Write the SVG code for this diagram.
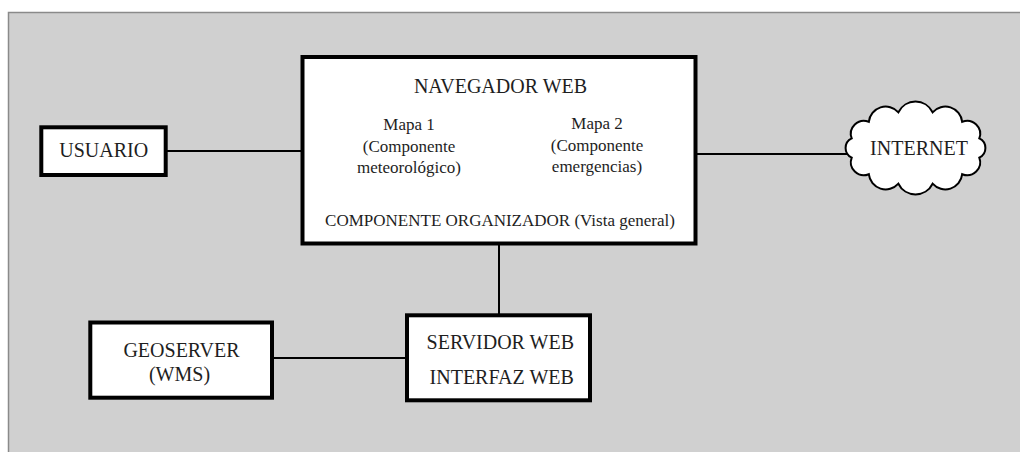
<svg xmlns="http://www.w3.org/2000/svg" width="1020" height="452" viewBox="0 0 1020 452">
  <style>
    .box { fill: #ffffff; stroke: #000000; stroke-width: 4; }
    .cloud { fill: #ffffff; stroke: #000000; stroke-width: 2; }
    .link { stroke: #000000; stroke-width: 2; fill: none; }
    .lbl { font-family: "Liberation Serif", "Times New Roman", serif; fill: #1e1e1e; text-anchor: middle; }
    .big { font-size: 20px; }
    .small { font-size: 17px; }
  </style>

  <!-- page background and framed panel -->
  <rect x="0" y="0" width="1020" height="452" fill="#ffffff"/>
  <rect x="8.5" y="12.5" width="1020" height="450" fill="#d0d0d0" stroke="#8a8a8a" stroke-width="1.5"/>

  <!-- connectors -->
  <g id="connectors">
    <line class="link" x1="167" y1="151" x2="302" y2="151"/>
    <line class="link" x1="697" y1="154" x2="850" y2="154"/>
    <line class="link" x1="499" y1="245" x2="499" y2="314"/>
    <line class="link" x1="273" y1="358" x2="406" y2="358"/>
  </g>

  <g id="usuario">
    <rect class="box" x="41.3" y="127.3" width="124.4" height="47.7"/>
    <text class="lbl big" x="103.7" y="157">USUARIO</text>
  </g>

  <g id="navegador">
    <rect class="box" x="302.5" y="57" width="393" height="186.5"/>
    <text class="lbl big" x="500.5" y="93">NAVEGADOR WEB</text>
    <text class="lbl small" x="409" y="130">Mapa 1</text>
    <text class="lbl small" x="409" y="151.5">(Componente</text>
    <text class="lbl small" x="409" y="173">meteorológico)</text>
    <text class="lbl small" x="597" y="129">Mapa 2</text>
    <text class="lbl small" x="597" y="150.5">(Componente</text>
    <text class="lbl small" x="597" y="172">emergencias)</text>
    <text class="lbl small" x="500" y="226">COMPONENTE ORGANIZADOR (Vista general)</text>
  </g>

  <g id="internet">
    <path class="cloud" d="M851.7,157.6
      A10.6,10.6 0 0 1 851.7,138.4
      A13,13 0 0 1 868.8,121.8
      A17,17 0 0 1 898.4,112.3
      A19,19 0 0 1 932.6,112.3
      A17,17 0 0 1 962.2,121.8
      A13,13 0 0 1 979.3,138.4
      A10.6,10.6 0 0 1 979.3,157.6
      A13,13 0 0 1 962.2,174.2
      A17,17 0 0 1 932.6,183.7
      A19,19 0 0 1 898.4,183.7
      A17,17 0 0 1 868.8,174.2
      A13,13 0 0 1 851.7,157.6 Z"/>
    <text class="lbl big" x="919" y="154.5">INTERNET</text>
  </g>

  <g id="servidor">
    <rect class="box" x="407" y="315.3" width="183" height="85"/>
    <text class="lbl big" x="500.3" y="348.5">SERVIDOR WEB</text>
    <text class="lbl big" x="501.7" y="384">INTERFAZ WEB</text>
  </g>

  <g id="geoserver">
    <rect class="box" x="90.3" y="322.5" width="181.7" height="75.2"/>
    <text class="lbl big" x="181.5" y="356.7">GEOSERVER</text>
    <text class="lbl big" x="179.5" y="381">(WMS)</text>
  </g>
</svg>
